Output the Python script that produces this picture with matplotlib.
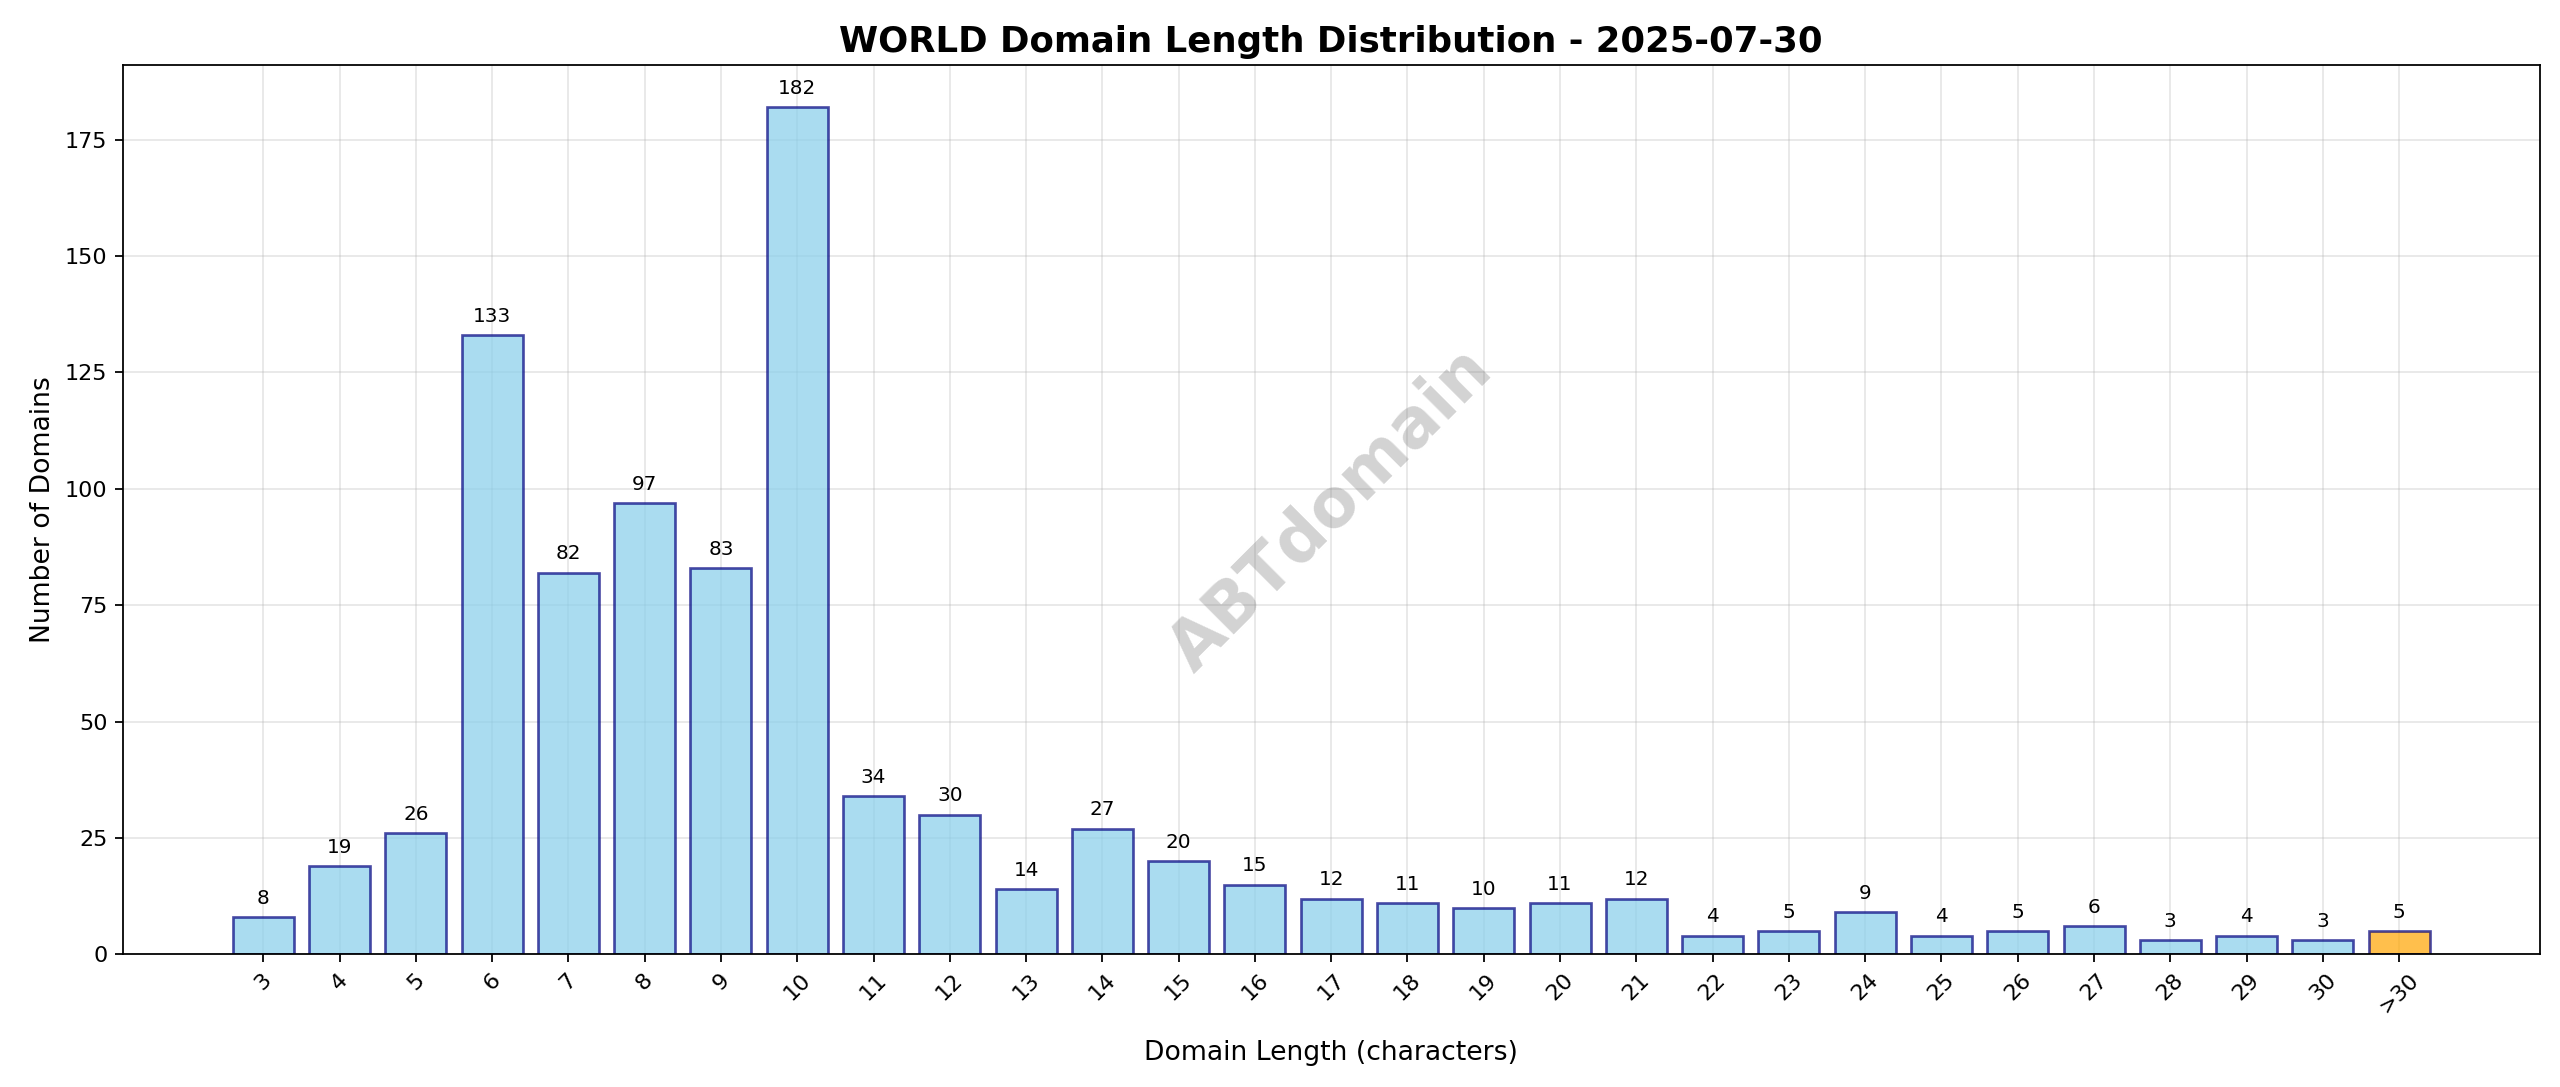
import matplotlib
matplotlib.use("Agg")
import matplotlib.pyplot as plt

labels = [str(i) for i in range(3, 31)] + [">30"]
counts = [8, 19, 26, 133, 82, 97, 83, 182, 34, 30, 14, 27, 20, 15, 12, 11, 10, 11, 12,
          4, 5, 9, 4, 5, 6, 3, 4, 3, 5]

fig, ax = plt.subplots(figsize=(16, 6.79375), dpi=160)
fig.subplots_adjust(left=0.048, right=0.992, top=0.94, bottom=0.122)
colors = ["skyblue"] * (len(labels) - 1) + ["orange"]
x = list(range(len(labels)))
bars = ax.bar(x, counts, color=colors, edgecolor="navy", alpha=0.7, linewidth=1.2)
for b, v in zip(bars, counts):
    ax.text(b.get_x() + b.get_width() / 2, v + 2, str(v), ha="center", va="bottom", fontsize=9)
ax.set_xticks(x)
ax.set_xticklabels(labels, rotation=45)
ax.set_xlabel("Domain Length (characters)", fontsize=12, labelpad=10)
ax.set_ylabel("Number of Domains", fontsize=12)
ax.set_title("WORLD Domain Length Distribution - 2025-07-30", fontsize=16, fontweight="bold")
ax.grid(True, alpha=0.3)
ax.set_axisbelow(True)
ax.set_ylim(0, 191)
ax.text(0.5, 0.5, "ABTdomain", transform=ax.transAxes, fontsize=30, fontweight="bold",
        color="gray", alpha=0.35, rotation=45, ha="center", va="center")
fig.savefig("out.png", dpi=160)
